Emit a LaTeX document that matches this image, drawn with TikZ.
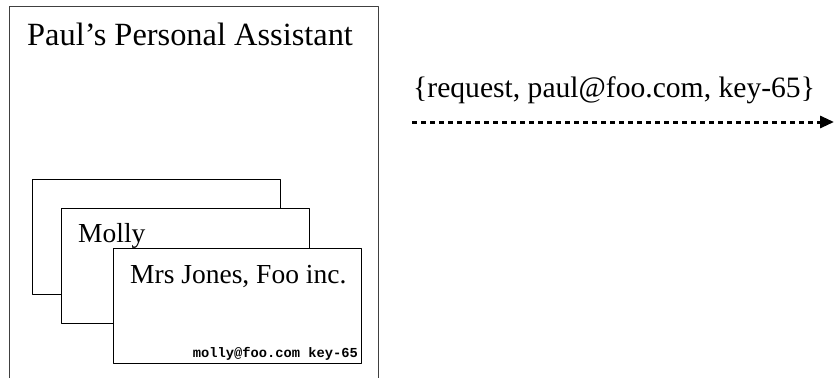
\documentclass[tikz,border=0pt]{standalone}
\usepackage{fontspec}
\setmainfont{Liberation Serif}
\setmonofont{Liberation Mono}
\usetikzlibrary{arrows.meta}
\tikzset{
  card/.style={draw, fill=white, line width=0.9pt, anchor=north west, inner sep=0pt,
    minimum width=248pt, minimum height=115pt},
  label/.style={anchor=base west, inner sep=0pt},
}
\begin{document}
\begin{tikzpicture}[x=1pt, y=-1pt, line join=round, >={Triangle[length=14pt, width=12pt]}]
\useasboundingbox (0,0) rectangle (834,378);
\path (9,378) coordinate (PL)
      (9,6) coordinate (PTL)
      (378,6) coordinate (PTR)
      (378,378) coordinate (PR)
      (412,122) coordinate (S)
      (834,122) coordinate (E)
      ;
% assistant frame
\draw[line width=0.9pt, black!75] (PL)--(PTL)--(PTR)--(PR);
\node[label, font=\fontsize{32.4}{36}\selectfont] (title) at (27,45) {Paul's Personal Assistant};
% stack of cards
\foreach\n/\x/\y in {c1/32/179, c2/61/208, c3/113/248}{\node[card] (\n) at (\x,\y) {};}
\node[label, font=\fontsize{27.5}{32}\selectfont] (molly) at (78,242) {Molly};
\node[label, font=\fontsize{27.5}{32}\selectfont] (jones) at (130,283) {Mrs Jones, Foo inc.};
\node[anchor=base east, inner sep=0pt, font=\ttfamily\bfseries\fontsize{13.75}{16}\selectfont] (key) at (358,357) {molly@foo.com key-65};
% request message
\node[label, font=\fontsize{29.6}{34}\selectfont] (msg) at (413,97) {\{request, paul@foo.com, key-65\}};
\draw[->, line width=3pt, dash pattern=on 5pt off 4pt] (S) -- (E);
\end{tikzpicture}
\end{document}
